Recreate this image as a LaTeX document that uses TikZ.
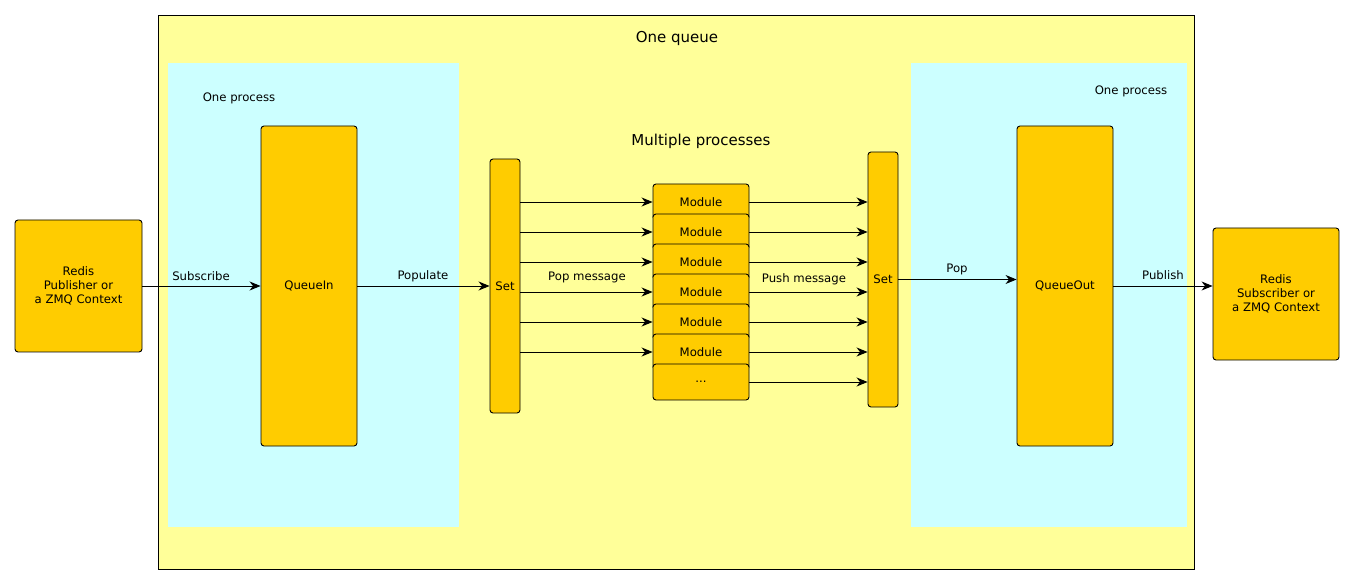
\documentclass[tikz,border=0pt]{standalone}
\usepackage{fontspec}
\setmainfont{DejaVu Sans}
\usetikzlibrary{arrows.meta}
\definecolor{queuebg}{HTML}{FFFF99}
\definecolor{procbg}{HTML}{CCFFFF}
\definecolor{boxfill}{HTML}{FFCC00}

\begin{document}
\begin{tikzpicture}[x=1pt,y=-1pt,
    box/.style={draw, fill=boxfill, rounded corners=3pt, line width=0.9pt,
      inner sep=0pt, align=center, font=\fontsize{11.7}{14}\selectfont},
    lbl/.style={inner sep=0pt, font=\fontsize{11.7}{14}\selectfont},
    title/.style={inner sep=0pt, font=\fontsize{15}{18}\selectfont},
    flow/.style={-{Stealth[length=11pt,width=9pt,inset=3.5pt]}, line width=0.9pt}]
  \useasboundingbox (0,0) rectangle (1355,585);
  % the queue and its two processes
  \draw[fill=queuebg, line width=0.9pt] (158,15) rectangle (1194,569);
  \fill[procbg] (168,63) rectangle (459,527);
  \fill[procbg] (911,63) rectangle (1187,527);
  \node[title] (qtitle) at (677,38) {One queue};
  \node[lbl] (procin) at (239,98) {One process};
  \node[lbl] (procout) at (1131,91) {One process};
  \node[title] (multi) at (701,141) {Multiple processes};

  \node[box, minimum width=127pt, minimum height=132pt] (src) at (78.5,286)
    {Redis\\Publisher or\\a ZMQ Context};
  \node[box, minimum width=126pt, minimum height=132pt] (dst) at (1276,294)
    {Redis\\Subscriber or\\a ZMQ Context};
  \node[box, minimum width=96pt, minimum height=320pt] (queuein) at (309,286) {QueueIn};
  \node[box, minimum width=96pt, minimum height=320pt] (queueout) at (1065,286) {QueueOut};
  \node[box, minimum width=30pt, minimum height=254pt] (setin) at (505,286) {Set};
  \node[box, minimum width=30pt, minimum height=255pt] (setout) at (883,279.5) {Set};

  % modules overlap, so later ones cover the bottom of earlier ones
  \foreach \k in {0,...,5}
    \node[box, minimum width=96pt, minimum height=36pt] (mod\k) at (701,{202+30*\k}) {Module};
  \node[box, minimum width=96pt, minimum height=36pt] (mod6) at (701,382) {...};

  \foreach \k in {0,...,5}
    \draw[flow] (setin.east |- mod\k) -- (mod\k.west);
  \foreach \k in {0,...,6}
    \draw[flow] (mod\k.east) -- (setout.west |- mod\k);

  \draw[flow] (src.east |- queuein) -- (queuein.west);
  \draw[flow] (queuein.east) -- (setin.west);
  \draw[flow] (setout.east) -- (setout.east -| queueout.west);
  \draw[flow] (queueout.east) -- (queueout.east -| dst.west);

  \node[lbl] (subscribe) at (201,276) {Subscribe};
  \node[lbl] (populate) at (423,276) {Populate};
  \node[lbl] (popmsg) at (587,277) {Pop message};
  \node[lbl] (pushmsg) at (804,279) {Push message};
  \node[lbl] (pop) at (957,269) {Pop};
  \node[lbl] (publish) at (1163,275) {Publish};
\end{tikzpicture}
\end{document}
